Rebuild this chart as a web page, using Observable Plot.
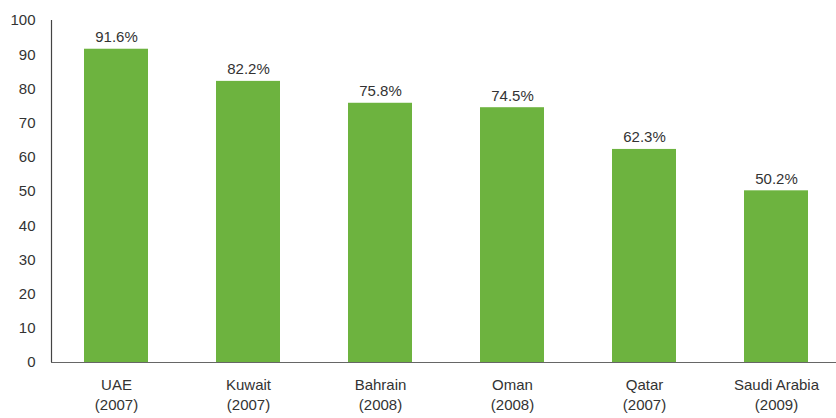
<!DOCTYPE html>
<html><head><meta charset="utf-8">
<script src="https://cdn.jsdelivr.net/npm/d3@7"></script>
<script src="https://cdn.jsdelivr.net/npm/@observablehq/plot@0.6"></script>
<style>body{margin:0;background:#fff}</style>
</head><body><div id="chart"></div>
<script>
const countries = ["UAE", "Kuwait", "Bahrain", "Oman", "Qatar", "Saudi Arabia"];
const years = ["2007", "2007", "2008", "2008", "2007", "2009"];
const values = [91.6, 82.2, 75.8, 74.5, 62.3, 50.2];
const yTicks = [0, 10, 20, 30, 40, 50, 60, 70, 80, 90, 100];

const data = countries.map((c, i) => ({country: c, year: years[i], value: values[i], label: c + "\n(" + years[i] + ")"}));
const font = "'Liberation Sans', Arial, sans-serif";

const leftLine = (index, scales, values, dims) => {
  const g = d3.create("svg:g");
  g.append("line")
    .attr("x1", dims.marginLeft + 0.5).attr("x2", dims.marginLeft + 0.5)
    .attr("y1", scales.y(100)).attr("y2", scales.y(0))
    .attr("stroke", "#444").attr("stroke-width", 1.2);
  return g.node();
};

const chart = Plot.plot({
  width: 836, height: 418,
  marginLeft: 51, marginRight: 0, marginTop: 20, marginBottom: 56,
  style: {fontFamily: font, fontSize: "15px", color: "#333", background: "#fff"},
  x: {domain: data.map(d => d.label), range: [50, 842], paddingInner: 0.515, paddingOuter: 0.2575, label: null},
  y: {domain: [0, 100], label: null},
  marks: [
    Plot.barY(data, {x: "label", y: "value", fill: "#6db33f"}),
    Plot.ruleY([0], {stroke: "#666", strokeWidth: 1.2}),
    leftLine,
    Plot.axisY({ticks: yTicks, tickSize: 0, tickPadding: 16, fill: "#333", fontSize: 15, label: null}),
    Plot.axisX({tickSize: 0, tickPadding: 14, fill: "#333", fontSize: 15, lineHeight: 1.3, label: null}),
    Plot.text(data, {x: "label", y: "value", text: d => d.value.toFixed(1) + "%", dy: -12, fill: "#333", fontSize: 15})
  ]
});
document.getElementById("chart").appendChild(chart);
</script></body></html>
